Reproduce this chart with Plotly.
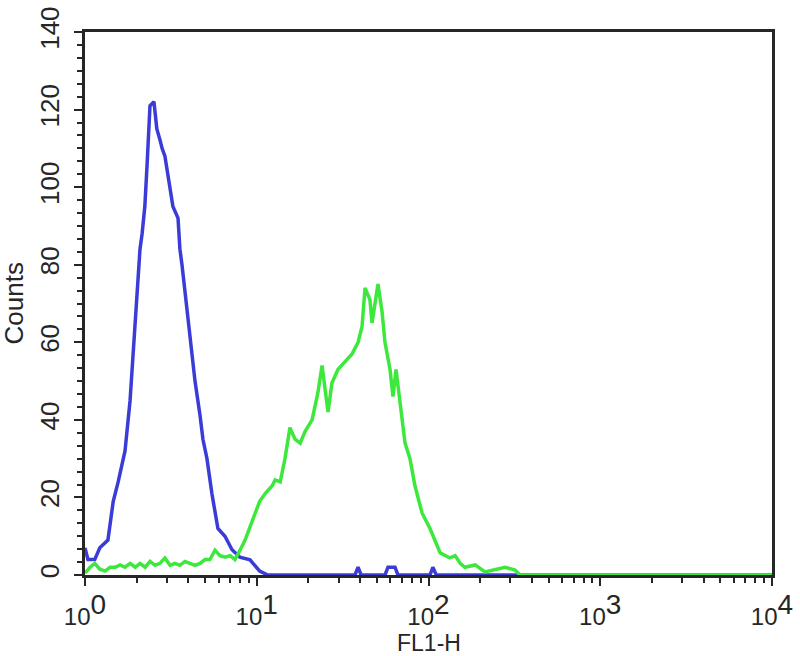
import plotly.graph_objects as go

# Blue histogram (control): FL1-H channel value vs counts
blue_x = [1.00, 1.04, 1.14, 1.22, 1.36, 1.46, 1.56, 1.71, 1.83, 1.95, 2.09, 2.15,
          2.23, 2.30, 2.39, 2.52, 2.62, 2.74, 2.81, 2.92, 3.04, 3.25, 3.48, 3.57,
          3.67, 3.82, 4.08, 4.37, 4.68, 4.86, 5.13, 5.48, 5.94, 6.53, 7.18, 7.98,
          9.14, 10.4, 11.6, 37.3, 38.9, 40.5, 55.8, 58.1, 63.8, 66.4, 102, 106,
          111, 10000]
blue_y = [7, 4, 4, 7, 9, 19, 24, 32, 45, 63, 84, 88,
          95, 106, 121, 122, 115, 112, 110, 108, 103, 95, 92, 84,
          80, 73, 63, 50, 41, 35, 30, 21, 12, 10, 6.5, 4.6,
          3.9, 1, 0, 0, 2, 0, 0, 2, 2, 0, 0, 2,
          0, 0]

# Green histogram (stained sample)
green_x = [1.00, 1.07, 1.14, 1.22, 1.31, 1.40, 1.50, 1.60, 1.71, 1.83, 1.96, 2.09,
           2.24, 2.39, 2.56, 2.73, 2.92, 3.13, 3.34, 3.57, 3.82, 4.09, 4.37, 4.67,
           5.00, 5.34, 5.71, 6.11, 6.54, 6.99, 7.47, 7.99, 8.55, 9.14, 9.77, 10.4,
           11.2, 12.3, 12.8, 13.7, 14.6, 15.6, 16.7, 17.9, 19.1, 21.0, 22.7, 24.0,
           26.0, 27.4, 29.7, 32.7, 35.9, 38.9, 41.0, 42.7, 45.6, 46.9, 50.8, 53.6,
           55.8, 59.7, 62.1, 64.7, 68.2, 73.0, 78.0, 83.4, 91.7, 102, 117, 133,
           143, 153, 163, 187, 213, 244, 279, 319, 341, 10000]
green_y = [0.5, 2, 3, 1.5, 1, 2, 2, 2.6, 2, 3, 2, 3,
           2, 3.5, 2.5, 3, 4.4, 2.5, 3, 2.5, 3.5, 3, 2.5, 3,
           4, 4, 6.4, 5, 4.6, 5, 4, 6.4, 9, 12.4, 16, 19,
           21, 23, 24.5, 24, 30, 38, 35, 34, 37, 40, 47, 54,
           42, 49.5, 53, 55, 57, 60, 64, 74, 71, 65, 75, 68,
           60, 53, 46, 53, 45, 34, 30, 23, 16, 12, 5.7, 4.4,
           5, 3, 2, 2.6, 0.8, 1.3, 2, 1.3, 0, 0]

x_tickvals = [1, 10, 100, 1000, 10000]
x_exponents = ["0", "1", "2", "3", "4"]
y_tickvals = [0, 20, 40, 60, 80, 100, 120, 140]
x_title = "FL1-H"
y_title = "Counts"

x_ticktext = ["10<sup><span style='font-size:28px'>%s</span></sup>" % e for e in x_exponents]

BLUE = "#3b3bd8"
GREEN = "#3de83d"
AXIS = "#262626"
FONT = "Liberation Sans, Arial, sans-serif"

fig = go.Figure()
fig.add_trace(go.Scatter(x=blue_x, y=blue_y, mode="lines",
                         line=dict(color=BLUE, width=3.5), showlegend=False))
fig.add_trace(go.Scatter(x=green_x, y=green_y, mode="lines",
                         line=dict(color=GREEN, width=3.5), showlegend=False))

fig.update_layout(
    width=800, height=656,
    margin=dict(l=85, r=28, t=32, b=81),
    paper_bgcolor="white", plot_bgcolor="white",
    font=dict(family=FONT, color=AXIS, size=26),
    xaxis=dict(
        type="log", range=[0, 4], automargin=False,
        tickvals=x_tickvals, ticktext=x_ticktext,
        ticks="outside", ticklen=8, tickwidth=2, tickcolor=AXIS,
        minor=dict(dtick="D1", ticks="outside", ticklen=5, tickwidth=2, tickcolor=AXIS, showgrid=False),
        showline=True, linecolor=AXIS, linewidth=2.5, mirror=True,
        showgrid=False, zeroline=False,
        ticklabelstandoff=10, ticklabeloverflow="allow",
        tickfont=dict(size=24, family=FONT, color=AXIS),
        layer="below traces",
    ),
    yaxis=dict(
        range=[0, 140], automargin=False,
        tickvals=y_tickvals, tickangle=-90,
        ticks="outside", ticklen=8, tickwidth=2, tickcolor=AXIS,
        minor=dict(dtick=20/6, ticks="outside", ticklen=5, tickwidth=2, tickcolor=AXIS, showgrid=False),
        showline=True, linecolor=AXIS, linewidth=2.5, mirror=True,
        showgrid=False, zeroline=False,
        ticklabelstandoff=5, ticklabeloverflow="allow",
        tickfont=dict(size=26, family=FONT, color=AXIS),
        layer="below traces",
    ),
    annotations=[
        dict(text=x_title, xref="paper", yref="paper", x=0.5, y=0,
             xanchor="center", yanchor="middle", yshift=-68, showarrow=False,
             font=dict(size=23, family=FONT, color=AXIS)),
        dict(text=y_title, xref="paper", yref="paper", x=0, y=0.5,
             xanchor="center", yanchor="middle", xshift=-72, textangle=-90,
             showarrow=False, font=dict(size=26, family=FONT, color=AXIS)),
    ],
)

fig.write_html("out.html", config={"displayModeBar": False},
               post_script="document.body.style.margin='0px';")
